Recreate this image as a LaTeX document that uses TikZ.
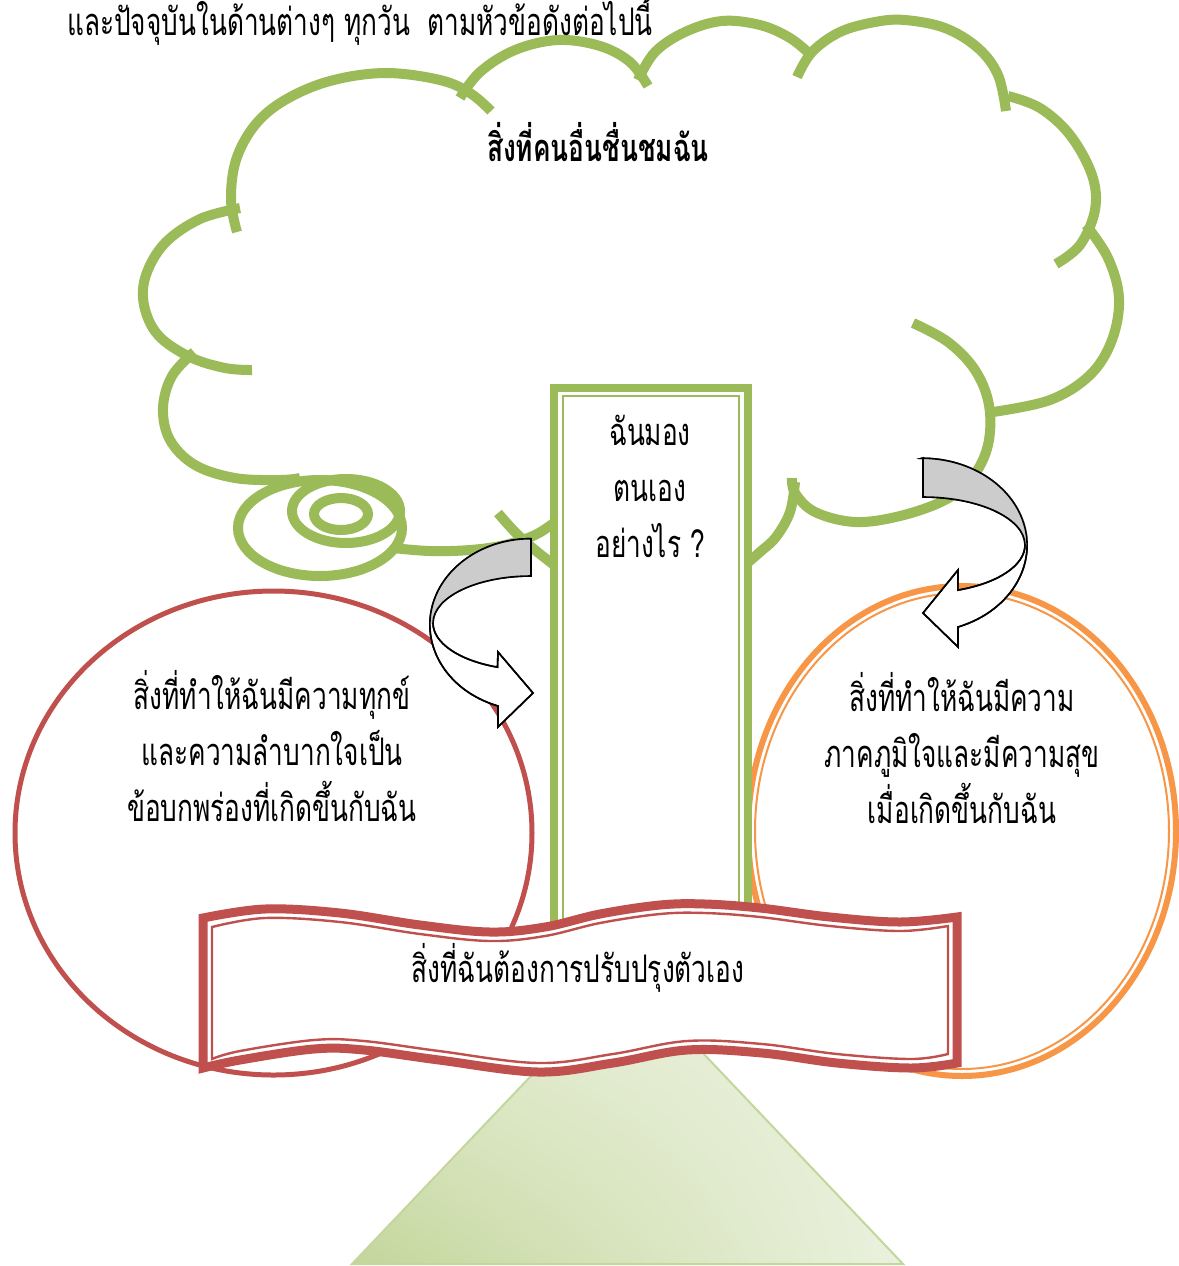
\documentclass[tikz,border=0pt]{standalone}
\usepackage{fontspec}
\usetikzlibrary{shadings}
\newfontfamily\thai[Script=Thai,FakeStretch=0.69]{Loma}
\definecolor{cgreen}{HTML}{9BBB59}
\definecolor{cred}{HTML}{C0504D}
\definecolor{corange}{HTML}{F79646}
\definecolor{ctrunk}{HTML}{C3D69B}
\definecolor{ctrunklight}{HTML}{EBF1DE}
\definecolor{cgrayband}{HTML}{CCCCCC}
\begin{document}
\begin{tikzpicture}[x=0.5pt,y=-0.5pt,
  cloudline/.style={draw=cgreen,line width=5pt},
  txt/.style={font=\thai\fontsize{19}{28}\selectfont,inner sep=0pt,align=center,text=black},
  curvearrow/.style={draw=black,line width=0.8pt,fill=white,line join=miter},
]
\useasboundingbox (0,0) rectangle (1179,1266);
\fill[white] (0,0) rectangle (1179,1266);

% trunk
\shade[lower left=ctrunk, lower right=ctrunklight, upper left=ctrunklight!85!ctrunk, upper right=ctrunklight]
  (352,1264) -- (628,974) -- (903,1264) -- cycle;
\draw[ctrunk,line width=1pt] (352,1264) -- (628,974) -- (903,1264) -- cycle;

% cloud
\draw[cloudline] plot[smooth,tension=0.6] coordinates {(237,232) (231,200) (236,160) (255,125) (285,100) (330,81) (385,73) (440,80) (470,93) (491,111)};
\draw[cloudline] plot[smooth,tension=0.6] coordinates {(460,98) (480,72) (515,50) (558,40) (600,46) (630,62) (648,86)};
\draw[cloudline] plot[smooth,tension=0.6] coordinates {(638,80) (655,52) (685,32) (722,21) (760,25) (790,38) (812,56)};
\draw[cloudline] plot[smooth,tension=0.6] coordinates {(797,77) (812,52) (840,32) (875,22) (905,20) (945,28) (978,48) (998,75) (1006,111)};
\draw[cloudline] plot[smooth,tension=0.6] coordinates {(1008,96) (1040,108) (1070,135) (1092,175) (1095,210) (1080,245) (1056,264)};
\draw[cloudline] plot[smooth,tension=0.6] coordinates {(1086,225) (1108,258) (1119,298) (1112,340) (1090,375) (1050,400) (993,412)};
\draw[cloudline] plot[smooth,tension=0.6] coordinates {(913,323) (948,342) (975,370) (989,405) (988,445) (972,478) (945,500) (900,516) (855,522) (815,512) (795,493) (792,478)};
\draw[cloudline] plot[smooth,tension=0.6] coordinates {(795,482) (790,512) (776,537) (760,552) (745,565)};
\draw[cloudline] plot[smooth,tension=0.6] coordinates {(498,513) (515,532) (535,550) (558,568)};
\draw[cloudline] plot[smooth,tension=0.6] coordinates {(393,548) (430,551) (470,550) (505,545) (535,535) (555,522)};
\draw[cloudline] plot[smooth,tension=0.6] coordinates {(240,208) (200,219) (165,243) (146,275) (144,305) (158,335) (190,357) (225,368) (252,370)};
\draw[cloudline] plot[smooth,tension=0.6] coordinates {(194,352) (172,376) (163,408) (170,440) (195,465) (235,478) (280,480) (300,478)};
\draw[cloudline] (320,528) ellipse[x radius=82,y radius=48];
\draw[cloudline] (346,511) ellipse[x radius=54,y radius=32];
\draw[cloudline] (341,514) ellipse[x radius=27,y radius=16];

\node[txt] (toptext) at (360,20) {และปัจจุบันในด้านต่างๆ ทุกวัน\ \ ตามหัวข้อดังต่อไปนี้};
\node[txt,font=\thai\bfseries\fontsize{19}{28}\selectfont] (praise) at (598,142) {สิ่งที่คนอื่นชื่นชมฉัน};

% circles
\draw[cred,line width=2.5pt] (273.5,833) ellipse[x radius=258.5,y radius=242];
\draw[corange,line width=3pt] (962,831) ellipse[x radius=214,y radius=245];
\draw[corange,line width=1pt] (962,831) ellipse[x radius=207,y radius=238];

\node[txt] (sad) at (272,746) {สิ่งที่ทำให้ฉันมีความทุกข์\\และความลำบากใจเป็น\\ข้อบกพร่องที่เกิดขึ้นกับฉัน};
\node[txt] (happy) at (962,748) {สิ่งที่ทำให้ฉันมีความ\\ภาคภูมิใจและมีความสุข\\เมื่อเกิดขึ้นกับฉัน};

% pillar
\draw[cgreen,line width=4pt,fill=white] (554,1000) -- (554,387.5) -- (747.5,387.5) -- (747.5,1000);
\draw[cgreen,line width=1pt] (563,1000) -- (563,396) -- (739,396) -- (739,1000);
\node[txt] (self) at (650,486) {ฉันมอง\\ตนเอง\\อย่างไร ?};

% left curved arrow
\draw[curvearrow] (531,539) -- (531,576) arc[start angle=270,end angle=110,x radius=98,y radius=47]
  -- (498,652) -- (533,693) -- (498,727) -- (498,706)
  arc[start angle=109,end angle=270,x radius=101,y radius=86] -- cycle;
\fill[cgrayband] (531,539) -- (531,576) arc[start angle=270,end angle=180,x radius=98,y radius=47]
  -- (430,625) arc[start angle=180,end angle=270,x radius=101,y radius=86] -- cycle;
\draw[curvearrow,fill=none] (531,539) -- (531,576) arc[start angle=270,end angle=110,x radius=98,y radius=47]
  -- (498,652) -- (533,693) -- (498,727) -- (498,706)
  arc[start angle=109,end angle=270,x radius=101,y radius=86] -- cycle;

% right curved arrow
\draw[curvearrow] (923,458) -- (923,497) arc[start angle=270,end angle=430,x radius=102,y radius=48]
  -- (958,570) -- (923,613) -- (958,647) -- (958,627)
  arc[start angle=70,end angle=-90,x radius=105,y radius=87] -- cycle;
\fill[cgrayband] (923,458) -- (923,497) arc[start angle=270,end angle=360,x radius=102,y radius=48]
  -- (1028,545) arc[start angle=0,end angle=-90,x radius=105,y radius=87] -- cycle;
\draw[curvearrow,fill=none] (923,458) -- (923,497) arc[start angle=270,end angle=430,x radius=102,y radius=48]
  -- (958,570) -- (923,613) -- (958,647) -- (958,627)
  arc[start angle=70,end angle=-90,x radius=105,y radius=87] -- cycle;

% banner
\draw[cred,line width=4.5pt,fill=white,line join=miter]
  plot[smooth,tension=0.6] coordinates {(203,918) (265,909) (340,913) (420,925) (490,932) (545,927) (600,914) (660,905) (705,904) (760,908) (830,917) (900,922) (957,917)}
  -- plot[smooth,tension=0.6] coordinates {(957,1063) (911,1068) (837,1063) (762,1053) (687,1050) (613,1063) (538,1072) (439,1060) (364,1050) (314,1049) (240,1060) (203,1068)}
  -- cycle;
\draw[cred,line width=1.2pt,line join=miter]
  plot[smooth,tension=0.6] coordinates {(212,927) (265,918) (340,922) (420,934) (490,941) (545,936) (600,923) (660,914) (705,913) (760,917) (830,926) (900,931) (948,926)}
  -- plot[smooth,tension=0.6] coordinates {(948,1054) (911,1059) (837,1054) (762,1044) (687,1041) (613,1054) (538,1063) (439,1051) (364,1041) (314,1040) (240,1051) (212,1059)}
  -- cycle;
\node[txt] (improve) at (578,968) {สิ่งที่ฉันต้องการปรับปรุงตัวเอง};
\end{tikzpicture}
\end{document}
